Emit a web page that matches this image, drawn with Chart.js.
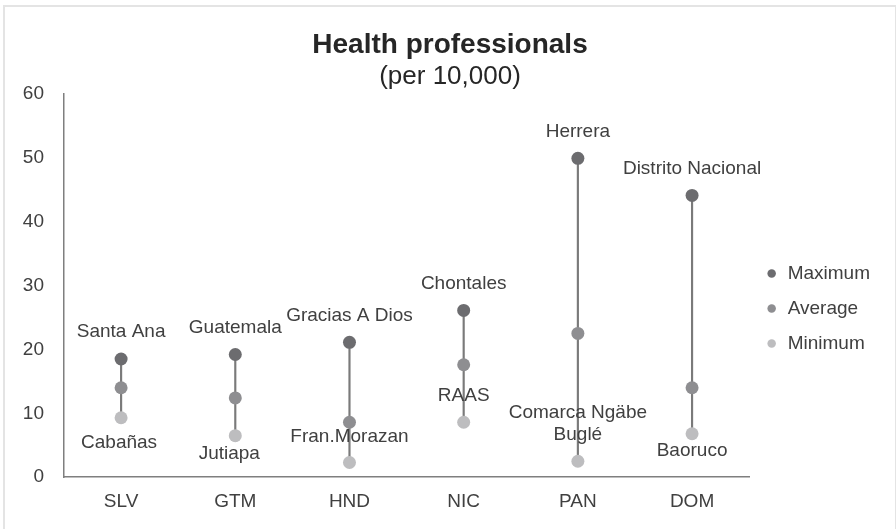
<!DOCTYPE html>
<html lang="en">
<head>
  <meta charset="UTF-8">
  <title>Health professionals</title>
  <script src="https://cdn.jsdelivr.net/npm/chart.js"></script>
  <style>
    html, body {
      margin: 0;
      overflow: hidden;
      background: #ffffff;
      font-family: "Liberation Sans", Arial, sans-serif;
    }
    #frame {
      position: absolute;
      left: 3px;
      top: 5px;
      width: 894px;
      height: 540px;
      box-sizing: border-box;
      border: 2px solid #e4e4e4;
    }
    #healthChart {
      position: absolute;
      left: 0;
      top: 0;
    }
  </style>
</head>
<body>
  <div id="frame"></div>
  <canvas id="healthChart" width="896" height="529"></canvas>

  <script>
    // data
    const countries = ['SLV', 'GTM', 'HND', 'NIC', 'PAN', 'DOM'];
    const maxValues = [18.5, 19.2, 21.1, 26.1, 49.9, 44.1];
    const avgValues = [14.0, 12.4, 8.6, 17.6, 22.5, 14.0];
    const minValues = [9.3, 6.5, 2.3, 8.6, 2.5, 6.8];
    const maxRegions = ['Santa Ana', 'Guatemala', 'Gracias A Dios', 'Chontales', 'Herrera', 'Distrito Nacional'];
    const minRegions = ['Cabañas', 'Jutiapa', 'Fran.Morazan', 'RAAS', ['Comarca Ngäbe', 'Buglé'], 'Baoruco'];
    const yTicks = [0, 10, 20, 30, 40, 50, 60];

    // where each region name sits relative to its point (pixels)
    const maxLabelShift = [[0, -27], [0, -27], [0, -27], [0, -27], [0, -27], [0, -27]];
    const minLabelShift = [[-2, 25], [-6, 18], [0, -26], [0, -26], [0, -26], [0, 17]];

    const FONT = '"Liberation Sans", Arial, sans-serif';
    const TEXT = '#404040';

    const regionLabels = {
      id: 'regionLabels',
      afterDatasetsDraw(chart) {
        const ctx = chart.ctx;
        ctx.save();
        ctx.font = '19px ' + FONT;
        ctx.fillStyle = TEXT;
        ctx.textAlign = 'center';
        ctx.textBaseline = 'middle';
        const drawSet = (dsIndex, names, shifts) => {
          const meta = chart.getDatasetMeta(dsIndex);
          meta.data.forEach((pt, i) => {
            const lines = Array.isArray(names[i]) ? names[i] : [names[i]];
            const [dx, dy] = shifts[i];
            lines.forEach((line, k) => {
              const y = pt.y + dy - (lines.length - 1 - k) * 22;
              ctx.fillText(line, pt.x + dx, y);
            });
          });
        };
        drawSet(1, maxRegions, maxLabelShift);
        drawSet(3, minRegions, minLabelShift);
        ctx.restore();
      }
    };

    const ctx = document.getElementById('healthChart').getContext('2d');
    const chart = new Chart(ctx, {
      type: 'bar',
      data: {
        labels: countries,
        datasets: [
          {
            label: 'Range',
            data: countries.map((c, i) => [minValues[i], maxValues[i]]),
            backgroundColor: '#7a7a7a',
            borderWidth: 0,
            barThickness: 1.5,
            order: 5
          },
          {
            type: 'line',
            label: 'Maximum',
            data: maxValues,
            showLine: false,
            pointRadius: 6.5,
            pointBorderWidth: 0,
            backgroundColor: '#6c6c6f',
            borderColor: '#6c6c6f'
          },
          {
            type: 'line',
            label: 'Average',
            data: avgValues,
            showLine: false,
            pointRadius: 6.5,
            pointBorderWidth: 0,
            backgroundColor: '#8e8e91',
            borderColor: '#8e8e91'
          },
          {
            type: 'line',
            label: 'Minimum',
            data: minValues,
            showLine: false,
            pointRadius: 6.5,
            pointBorderWidth: 0,
            backgroundColor: '#bdbdbf',
            borderColor: '#bdbdbf'
          }
        ]
      },
      options: {
        responsive: false,
        animation: false,
        layout: {
          padding: { left: 20, right: 16, top: 0, bottom: 3 }
        },
        plugins: {
          title: {
            display: true,
            text: 'Health professionals',
            color: '#262626',
            font: { family: FONT, size: 28, weight: 'bold' },
            padding: { top: 28, bottom: 0 }
          },
          subtitle: {
            display: true,
            text: '(per 10,000)',
            color: '#262626',
            font: { family: FONT, size: 26 },
            padding: { top: 0, bottom: 1 }
          },
          legend: {
            position: 'right',
            fullSize: false,
            title: {
              display: true,
              text: ' ',
              font: { size: 10 },
              padding: { top: 34, bottom: 0 }
            },
            labels: {
              filter: item => item.text !== 'Range',
              usePointStyle: true,
              pointStyle: 'circle',
              boxWidth: 13,
              boxHeight: 6,
              padding: 16,
              color: TEXT,
              font: { family: FONT, size: 19 }
            }
          },
          tooltip: { enabled: false }
        },
        scales: {
          x: {
            grid: { display: false, drawTicks: false },
            border: { display: true, color: '#7f7f7f', width: 1.5 },
            ticks: {
              color: TEXT,
              padding: 13,
              font: { family: FONT, size: 19 }
            }
          },
          y: {
            min: 0,
            max: 60,
            afterBuildTicks: axis => {
              axis.ticks = yTicks.map(v => ({ value: v }));
            },
            afterFit: axis => {
              axis.width = 44;
            },
            grid: { display: false, drawTicks: false },
            border: { display: true, color: '#7f7f7f', width: 1.5 },
            ticks: {
              color: TEXT,
              padding: 20,
              font: { family: FONT, size: 19 }
            }
          }
        }
      },
      plugins: [regionLabels]
    });
  </script>
</body>
</html>
